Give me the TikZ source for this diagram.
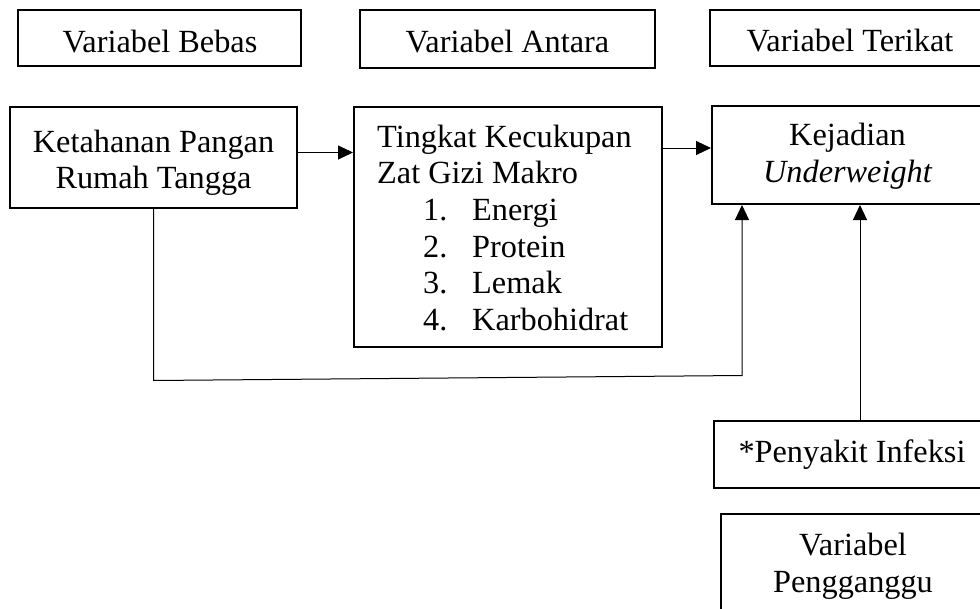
\documentclass[tikz,border=0pt]{standalone}
\usepackage{fontspec}
\setmainfont{Liberation Serif}
\usetikzlibrary{arrows.meta}
\begin{document}
\begin{tikzpicture}[x=1pt,y=-1pt,
  box/.style={draw,line width=2pt,rectangle,inner sep=0pt},
  txt/.style={inner sep=0pt,anchor=base,font=\fontsize{32.3}{36.6}\selectfont},
  ltxt/.style={txt,anchor=base west},
  conn/.style={line width=1pt},
  arr/.style={conn,-{Triangle[length=15pt,width=14pt]}}]
\useasboundingbox (0,0) rectangle (980,608);
% boxes
\node[box,minimum width=283pt,minimum height=56pt] (bebas) at (159.5,38) {};
\node[box,minimum width=295pt,minimum height=58pt] (antara) at (507.5,39) {};
\node[box,minimum width=280pt,minimum height=56pt] (terikat) at (850,38) {};
\node[box,minimum width=287pt,minimum height=101pt] (keta) at (153.5,157.5) {};
\node[box,minimum width=308pt,minimum height=240pt] (tingkat) at (508,227) {};
\node[box,minimum width=273pt,minimum height=98pt] (kejadian) at (848.5,155) {};
\node[box,minimum width=276pt,minimum height=67pt] (penyakit) at (852,454.5) {};
\node[box,minimum width=264pt,minimum height=136pt] (pengganggu) at (853,582) {};
% texts
\node[txt] (tbebas) at (160,52) {Variabel Bebas};
\node[txt] (tantara) at (507.5,52) {Variabel Antara};
\node[txt] (tterikat) at (850,51) {Variabel Terikat};
\node[txt] (tk1) at (153.5,152) {Ketahanan Pangan};
\node[txt] (tk2) at (153.5,188) {Rumah Tangga};
\node[ltxt] (tt1) at (377,147) {Tingkat Kecukupan};
\node[ltxt] (tt2) at (377,183) {Zat Gizi Makro};
\node[ltxt] (n1) at (423,220) {1.};
\node[ltxt] (i1) at (472,220) {Energi};
\node[ltxt] (n2) at (423,257) {2.};
\node[ltxt] (i2) at (472,257) {Protein};
\node[ltxt] (n3) at (423,293) {3.};
\node[ltxt] (i3) at (472,293) {Lemak};
\node[ltxt] (n4) at (423,330) {4.};
\node[ltxt] (i4) at (472,330) {Karbohidrat};
\node[txt] (tj1) at (847.5,145) {Kejadian};
\node[txt] (tj2) at (847.5,182) {\itshape Underweight};
\node[txt] (tp) at (852,462) {*Penyakit Infeksi};
\node[txt] (tg1) at (853,555) {Variabel};
\node[txt] (tg2) at (853,592) {Pengganggu};
% connectors
\draw[arr] ([yshift=5pt]keta.east) -- ([yshift=5pt]keta.east -| tingkat.west);
\draw[arr] ([yshift=7pt]kejadian.west -| tingkat.east) -- ([yshift=7pt]kejadian.west);
\coordinate (c1) at (153.5,380.5);
\coordinate (c2) at (742,375.5);
\draw[arr] (keta.south) -- (c1) -- (c2) -- (c2 |- kejadian.south);
\draw[arr] ([xshift=8pt]penyakit.north) -- ([xshift=8pt]penyakit.north |- kejadian.south);
\end{tikzpicture}
\end{document}
